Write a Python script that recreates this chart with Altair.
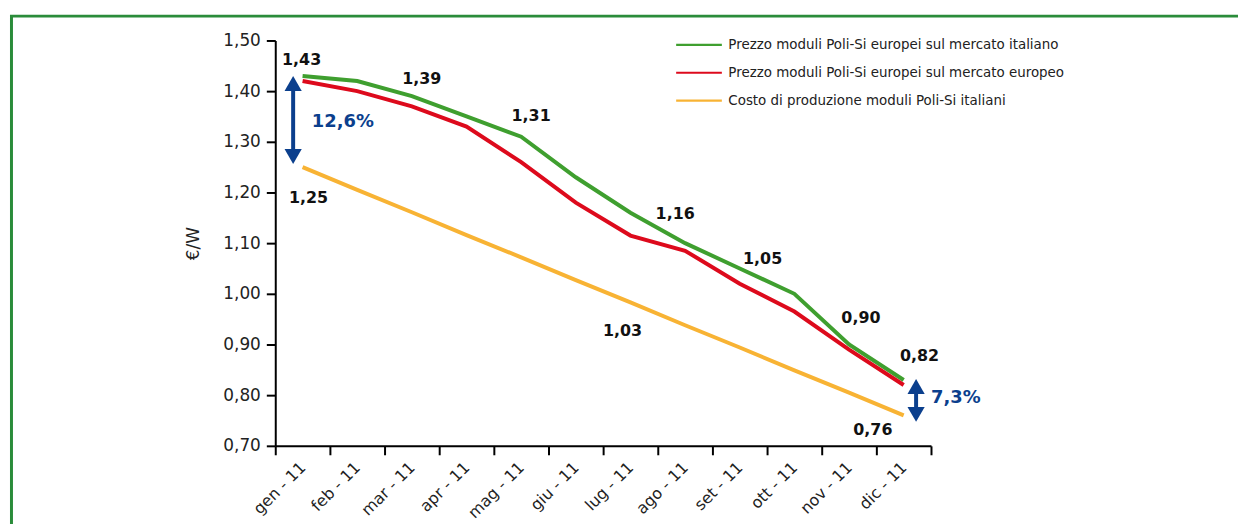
import altair as alt
import pandas as pd

# ---------------- data ----------------
months = ["gen - 11", "feb - 11", "mar - 11", "apr - 11", "mag - 11", "giu - 11",
          "lug - 11", "ago - 11", "set - 11", "ott - 11", "nov - 11", "dic - 11"]
series_names = [
    "Prezzo moduli Poli-Si europei sul mercato italiano",
    "Prezzo moduli Poli-Si europei sul mercato europeo",
    "Costo di produzione moduli Poli-Si italiani",
]
prezzo_italiano = [1.43, 1.42, 1.39, 1.35, 1.31, 1.23, 1.16, 1.10, 1.05, 1.00, 0.90, 0.83]
prezzo_europeo = [1.42, 1.40, 1.37, 1.33, 1.26, 1.18, 1.115, 1.085, 1.02, 0.965, 0.89, 0.82]
costo_italiano = [1.250, 1.205, 1.161, 1.116, 1.072, 1.027, 0.983, 0.938, 0.894, 0.849, 0.805, 0.760]
series_values = [prezzo_italiano, prezzo_europeo, costo_italiano]
colors = ["#3f9f2f", "#dd0a1c", "#f8b334"]

y_ticks = [0.70, 0.80, 0.90, 1.00, 1.10, 1.20, 1.30, 1.40, 1.50]

# value labels: (series index, month index, dx, dy)
label_specs = [
    (0, 0, -1, -16), (0, 2, 10, -17), (0, 4, 10, -21), (0, 6, 45, 1),
    (0, 8, 23, -10), (0, 10, 12, -27), (1, 11, 16, -29),
    (2, 0, 6, 31), (2, 5, 47, 51), (2, 11, -31, 15),
]
gap_texts = ["12,6%", "7,3%"]
gap_month = [0, 11]
gap_top = [1.415, 0.817]
gap_bottom = [1.271, 0.762]
gap_text_y = [1.34, 0.795]

BLUE = "#0b3f8d"
FONT = "DejaVu Sans"

# ---------------- tables ----------------
rows = []
for s, vals in zip(series_names, series_values):
    for i, v in enumerate(vals):
        rows.append({"i": i, "v": v, "serie": s})
df = pd.DataFrame(rows)

x_ticks = [k - 0.5 for k in range(len(months) + 1)]
month_js = "[" + ",".join("'" + m + "'" for m in months) + "]"

x_enc = alt.X(
    "i:Q",
    scale=alt.Scale(domain=[-0.5, len(months) - 0.5], nice=False, zero=False),
    axis=alt.Axis(
        values=x_ticks, title=None, grid=False,
        labelExpr=f"datum.value < {len(months) - 1} ? {month_js}[round(datum.value + 0.5)] : ''",
        labelAngle=-45, labelAlign="right", labelBaseline="middle",
        labelOffset=27.5, labelPadding=10, labelOverlap=False, labelFlush=False,
        labelFont=FONT, labelFontSize=16, labelColor="#222222",
        tickSize=9, tickWidth=2, tickColor="#000000",
        domainColor="#000000", domainWidth=2,
    ),
)
y_enc = alt.Y(
    "v:Q",
    scale=alt.Scale(domain=[0.7, 1.5], nice=False, zero=False),
    axis=alt.Axis(
        values=y_ticks, title="€/W", grid=False,
        labelExpr="replace(format(datum.value, '.2f'), '.', ',')",
        labelFont=FONT, labelFontSize=17, labelColor="#222222", labelPadding=6,
        tickSize=9, tickWidth=2, tickColor="#000000",
        domainColor="#000000", domainWidth=2,
        titleFont=FONT, titleFontSize=17, titleFontWeight="normal",
        titleColor="#222222", titlePadding=20,
    ),
)

border = alt.Chart(pd.DataFrame({"a": [0]})).mark_rect(
    fill=None, stroke="#2a8c3a", strokeWidth=3, clip=False
).encode(
    x=alt.value(-265.5), x2=alt.value(1100), y=alt.value(-24.5), y2=alt.value(700)
)

lines = alt.Chart(df).mark_line(strokeWidth=4, strokeCap="butt").encode(
    x=x_enc,
    y=y_enc,
    color=alt.Color(
        "serie:N",
        scale=alt.Scale(domain=series_names, range=colors),
        sort=series_names,
        legend=alt.Legend(
            title=None, orient="none", legendX=415, legendY=-7,
            symbolType="M-2.3,0H2.3", symbolSize=400, symbolStrokeWidth=2.2,
            labelFont=FONT, labelFontSize=13.5, labelColor="#222222",
            rowPadding=10, labelOffset=18, labelLimit=500,
        ),
    ),
    order="i:Q",
)

layers = [border, lines]

for s_idx, m_idx, dx, dy in label_specs:
    val = series_values[s_idx][m_idx]
    t = f"{val:.2f}".replace(".", ",")
    d = pd.DataFrame({"i": [m_idx], "v": [val], "t": [t]})
    layers.append(
        alt.Chart(d).mark_text(
            dx=dx, dy=dy, font=FONT, fontSize=16, fontWeight="bold", color="#111111"
        ).encode(x=x_enc, y=y_enc, text="t:N")
    )

gap_xoff = [-9.5, 12.5]
gap_tdx = [40.5, 52.5]
for k in range(len(gap_texts)):
    d = pd.DataFrame({"i": [gap_month[k]], "v": [gap_top[k]], "v2": [gap_bottom[k]]})
    layers.append(
        alt.Chart(d).mark_rule(strokeWidth=4, color=BLUE, xOffset=gap_xoff[k]).encode(
            x=x_enc, y=y_enc, y2="v2:Q"
        )
    )
    dt = pd.DataFrame({"i": [gap_month[k]], "v": [gap_top[k]]})
    layers.append(
        alt.Chart(dt).mark_point(shape="triangle-up", filled=True, size=300, opacity=1,
                                 color=BLUE, xOffset=gap_xoff[k]).encode(x=x_enc, y=y_enc)
    )
    db = pd.DataFrame({"i": [gap_month[k]], "v": [gap_bottom[k]]})
    layers.append(
        alt.Chart(db).mark_point(shape="triangle-down", filled=True, size=300, opacity=1,
                                 color=BLUE, xOffset=gap_xoff[k]).encode(x=x_enc, y=y_enc)
    )
    dl = pd.DataFrame({"i": [gap_month[k]], "v": [gap_text_y[k]], "t": [gap_texts[k]]})
    layers.append(
        alt.Chart(dl).mark_text(dx=gap_tdx[k], font=FONT, fontSize=18, fontWeight="bold",
                                color=BLUE).encode(x=x_enc, y=y_enc, text="t:N")
    )

chart = alt.layer(*layers).properties(
    width=660, height=408,
    padding={"left": 269, "top": 31, "right": 309, "bottom": 77},
    autosize=alt.AutoSizeParams(type="none"),
    background="white",
).configure_view(stroke=None)

chart.save("out.html", embed_options={"renderer": "svg", "actions": False})
